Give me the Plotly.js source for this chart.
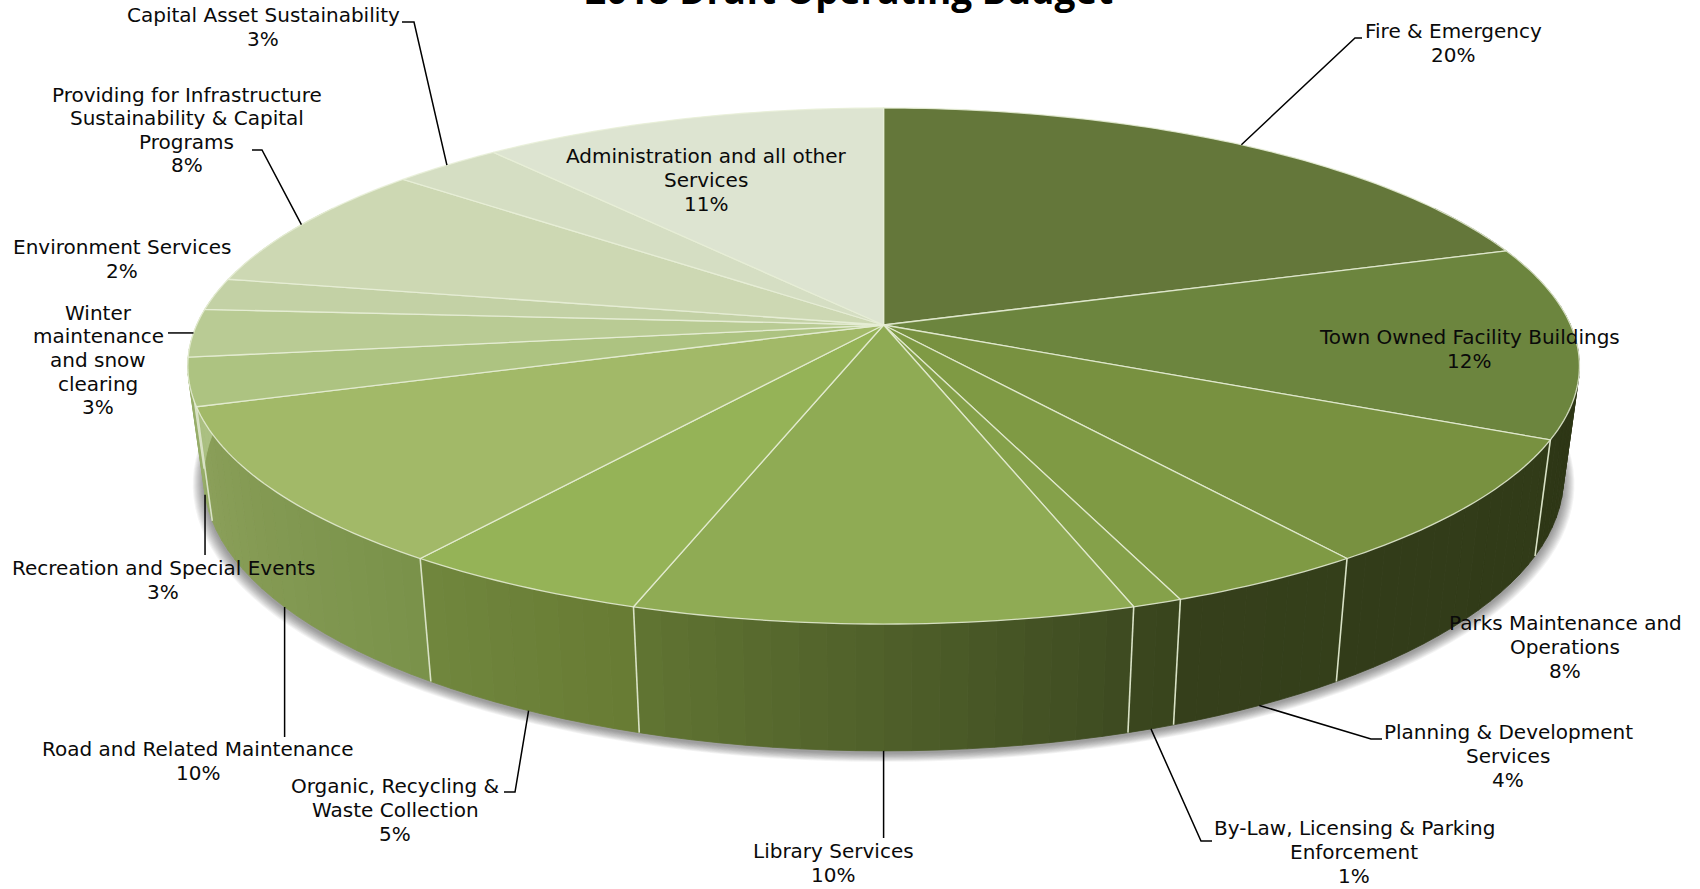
<!DOCTYPE html>
<html>
<head>
<meta charset="utf-8">
<title>2018 Draft Operating Budget</title>
<script src="https://cdn.plot.ly/plotly-3.0.1.min.js"></script>
<style>html,body{margin:0;padding:0;background:#fff}#chart{width:1700px;height:889px}</style>
</head>
<body>
<div id="chart"></div>
<script>
// Budget shares, clockwise from twelve o'clock (per cent)
const categories = [
  'Fire & Emergency', 'Town Owned Facility Buildings', 'Parks Maintenance and Operations',
  'Planning & Development Services', 'By-Law, Licensing & Parking Enforcement', 'Library Services',
  'Organic, Recycling & Waste Collection', 'Road and Related Maintenance', 'Recreation and Special Events',
  'Winter maintenance and snow clearing', 'Environment Services',
  'Providing for Infrastructure Sustainability & Capital Programs', 'Capital Asset Sustainability',
  'Administration and all other Services'
];
const shares = [20, 12, 8, 4, 1, 10, 5, 10, 3, 3, 2, 8, 3, 11];

// Top face colour of each slice
const topColors = ['#64773a', '#6c853e', '#789140', '#7f9a44', '#85a14a', '#8fab54', '#95b357',
  '#a2b968', '#adc381', '#b9cb94', '#c3d1a5', '#cdd8b3', '#d5dec3', '#dde4d1'];
// Side wall shading of each slice, from its clockwise start to its end
const wallStart = ['#2d3615', '#2d3615', '#313b18', '#343f1a', '#39451d', '#3d4a20', '#677b33',
  '#7a924a', '#93a965', '#a9be80', '#b5c690', '#bfcc9f', '#c8d4b0', '#d0dac0'];
const wallEnd = ['#2d3615', '#2e3716', '#323c19', '#353f1b', '#3a461e', '#617533', '#70873e',
  '#8ba05a', '#98ae6b', '#adc285', '#b9c995', '#c3d0a5', '#ccd7b6', '#d4ddc5'];

// Label placement: wrap width in characters, centre of the text block
const wrapWidths = [40, 40, 24, 24, 30, 40, 22, 40, 40, 11, 40, 30, 40, 30];
const labelX = [1453, 1469, 1565, 1508, 1354, 833, 395, 198, 163, 98, 122, 186.5, 263, 706];
const labelY = [43, 349, 647, 756, 852, 863, 810, 761, 580, 360, 259, 130, 27, 180];
const lineGap = 23.6;

// Leader lines: slice index, which rim they start on, then the points that lead to the label.
// A null coordinate keeps the value of the rim point, which gives a straight vertical or horizontal run.
const leaders = [
  {slice: 0, rim: 'top', path: [[1355, 38], [1362, 38]]},
  {slice: 3, rim: 'floor', path: [[1371, 739], [1382, 739]]},
  {slice: 4, rim: 'floor', path: [[1201, 841], [1212, 841]]},
  {slice: 5, rim: 'floor', path: [[null, 838]]},
  {slice: 6, rim: 'floor', path: [[515, 792], [504, 792]]},
  {slice: 7, rim: 'floor', path: [[null, 737]]},
  {slice: 8, rim: 'floor', path: [[null, 555]]},
  {slice: 9, rim: 'top', path: [[168, null]]},
  {slice: 11, rim: 'top', path: [[262, 150], [252, 150]]},
  {slice: 12, rim: 'top', path: [[414, 22], [402, 22]]}
];

// Perspective view of the disc
const view = {cx: 883.6, cy: 325, a: 687, b: 251.5, k: 0.159, floorX: 0.977, floorY: 1.058, depth: 109.5};
const deg = Math.PI / 180;

function rimPoint(theta) {
  const u = Math.sin(theta * deg), v = -Math.cos(theta * deg), s = 1 / (1 - view.k * v);
  return [view.cx + view.a * u * s, view.cy + view.b * v * s];
}
function floorPoint(theta) {
  const p = rimPoint(theta);
  return [view.cx + (p[0] - view.cx) * view.floorX, view.cy + (p[1] - view.cy) * view.floorY + view.depth];
}
function hexToRgb(h) {
  return [1, 3, 5].map(i => parseInt(h.slice(i, i + 2), 16));
}
function mix(a, b, t) {
  const x = hexToRgb(a), y = hexToRgb(b);
  return 'rgb(' + x.map((c, i) => Math.round(c + (y[i] - c) * t)).join(',') + ')';
}
function wrap(text, width) {
  const lines = [];
  let line = '';
  text.split(' ').forEach(w => {
    if (line && (line + ' ' + w).length > width) { lines.push(line); line = w; }
    else { line = line ? line + ' ' + w : w; }
  });
  lines.push(line);
  return lines;
}

const total = shares.reduce((a, b) => a + b, 0);
const bounds = [0];
shares.forEach(s => bounds.push(bounds[bounds.length - 1] + s / total * 360));

const traces = [];
function addPoly(pts, fill, lineColor, lineWidth) {
  traces.push({
    type: 'scatter', mode: 'lines', hoverinfo: 'skip', showlegend: false,
    x: pts.map(p => p[0]), y: pts.map(p => p[1]),
    fill: fill ? 'toself' : 'none', fillcolor: fill || undefined,
    line: {color: lineColor, width: lineWidth, simplify: false}
  });
}

// Soft shadow under the disc, built from stacked translucent outlines
for (let grow = 11; grow >= 1; grow -= 1) {
  const outline = [];
  for (let t = 0; t <= 360; t += 2) {
    const p = floorPoint(t);
    const dx = p[0] - view.cx, dy = p[1] - view.cy - view.depth;
    const f = 1 + grow / 680;
    outline.push([view.cx + dx * f, view.cy + view.depth + dy * f + 2 + grow * 0.35]);
  }
  addPoly(outline, 'rgba(60,60,60,0.055)', 'rgba(0,0,0,0)', 0);
}

// Side wall, cut into narrow strips so that the shading runs along it
const wallFrom = 60, wallTo = 300, stripStep = 2;
shares.forEach((s, i) => {
  const a = Math.max(bounds[i], wallFrom), b = Math.min(bounds[i + 1], wallTo);
  if (b <= a) return;
  const n = Math.max(1, Math.ceil((b - a) / stripStep));
  for (let j = 0; j < n; j++) {
    const t0 = a + (b - a) * j / n, t1 = a + (b - a) * (j + 1) / n;
    const color = mix(wallStart[i], wallEnd[i], (j + 0.5) / n);
    addPoly([rimPoint(t0), rimPoint(t1), floorPoint(t1), floorPoint(t0), rimPoint(t0)], color, color, 0.8);
  }
});

// Pale dividers on the wall at the slice boundaries that face the viewer
bounds.forEach(t => {
  if (t > 100 && t < 268) addPoly([rimPoint(t), floorPoint(t)], null, '#d9e2c6', 1.6);
});

// Top face of each slice
shares.forEach((s, i) => {
  const pts = [[view.cx, view.cy]];
  for (let t = bounds[i]; t < bounds[i + 1]; t += 1) pts.push(rimPoint(t));
  pts.push(rimPoint(bounds[i + 1]), [view.cx, view.cy]);
  addPoly(pts, topColors[i], 'rgba(232,238,215,0.85)', 1.3);
});

// Leader lines from the middle of a slice's rim to its label
leaders.forEach(l => {
  const mid = (bounds[l.slice] + bounds[l.slice + 1]) / 2;
  const start = l.rim === 'top' ? rimPoint(mid) : floorPoint(mid);
  const pts = [start].concat(l.path.map(p => [p[0] === null ? start[0] : p[0], p[1] === null ? start[1] : p[1]]));
  addPoly(pts, null, '#000000', 1.5);
});

// One annotation per text line, so the line pitch can be set independently of the font size
const labelFont = {family: '"DejaVu Sans", sans-serif', size: 20, color: '#0a0a0a'};
const annotations = [];
categories.forEach((name, i) => {
  const lines = wrap(name, wrapWidths[i]).concat(shares[i] + '%');
  lines.forEach((text, j) => {
    annotations.push({
      xref: 'x', yref: 'y', x: labelX[i], y: labelY[i] + (j - (lines.length - 1) / 2) * lineGap,
      xanchor: 'center', yanchor: 'middle', align: 'center',
      showarrow: false, borderpad: 0, font: labelFont, text
    });
  });
});
annotations.push({
  xref: 'x', yref: 'y', x: 849, y: 16, xanchor: 'center', yanchor: 'bottom',
  showarrow: false, borderpad: 0,
  font: {family: '"Open Sans", sans-serif', size: 37, color: '#000000', weight: 700},
  text: '<b>2018 Draft Operating Budget</b>'
});

Plotly.newPlot('chart', traces, {
  width: 1700, height: 889,
  margin: {l: 0, r: 0, t: 0, b: 0},
  paper_bgcolor: '#ffffff', plot_bgcolor: '#ffffff',
  showlegend: false, hovermode: false,
  xaxis: {range: [0, 1700], visible: false, fixedrange: true},
  yaxis: {range: [889, 0], visible: false, fixedrange: true},
  annotations
}, {displayModeBar: false, staticPlot: true});
</script>
</body>
</html>
